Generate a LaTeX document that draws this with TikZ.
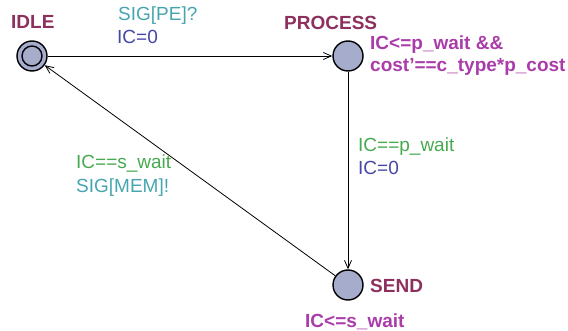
\documentclass[tikz,border=0pt]{standalone}
\usepackage{fontspec}
\setmainfont{Liberation Sans}
\usetikzlibrary{arrows.meta}
\definecolor{locname}{RGB}{142,48,94}
\definecolor{invcol}{RGB}{170,60,170}
\definecolor{synccol}{RGB}{70,165,175}
\definecolor{assigncol}{RGB}{70,70,165}
\definecolor{guardcol}{RGB}{70,170,80}
\definecolor{locfill}{RGB}{165,172,204}
\begin{document}
\begin{tikzpicture}[x=1pt,y=-1pt,
  loc/.style={circle,draw=black,line width=1.4pt,fill=locfill,minimum size=30pt,inner sep=0pt},
  txt/.style={inner sep=0pt,anchor=base west,font=\fontsize{19}{23}\selectfont},
  btxt/.style={txt,font=\fontsize{19}{23}\selectfont\bfseries},
  edge/.style={line width=0.8pt,-{Straight Barb[length=8pt,width=7pt]}}]
\useasboundingbox (0,0) rectangle (568,331);
% locations
\node[loc] (idle) at (32,56) {};
\node[circle,draw=black,line width=1.4pt,minimum size=20pt,inner sep=0pt] (idlein) at (32,56) {};
\node[loc] (process) at (348,56) {};
\node[loc] (send) at (348,285) {};
% names
\node[btxt,text=locname] (nidle) at (11,29) {IDLE};
\node[btxt,text=locname] (nprocess) at (284,30) {PROCESS};
\node[btxt,text=locname] (nsend) at (370,293) {SEND};
% invariants
\node[btxt,text=invcol] (inv1) at (370,50) {IC<=p\_wait \&\&};
\node[btxt,text=invcol] (inv2) at (370,72) {cost’==c\_type*p\_cost};
\node[btxt,text=invcol] (inv3) at (305,327) {IC<=s\_wait};
% edges
\draw[edge] (idle) -- (process);
\draw[edge] (process) -- (send);
\draw[edge] (send) -- (idle);
% edge labels
\node[txt,text=synccol] (l1) at (118,21) {SIG[PE]?};
\node[txt,text=assigncol] (l2) at (117,44) {IC=0};
\node[txt,text=guardcol] (l3) at (358,152) {IC==p\_wait};
\node[txt,text=assigncol] (l4) at (358,175) {IC=0};
\node[txt,text=guardcol] (l5) at (76,169) {IC==s\_wait};
\node[txt,text=synccol] (l6) at (76,193) {SIG[MEM]!};
\end{tikzpicture}
\end{document}
